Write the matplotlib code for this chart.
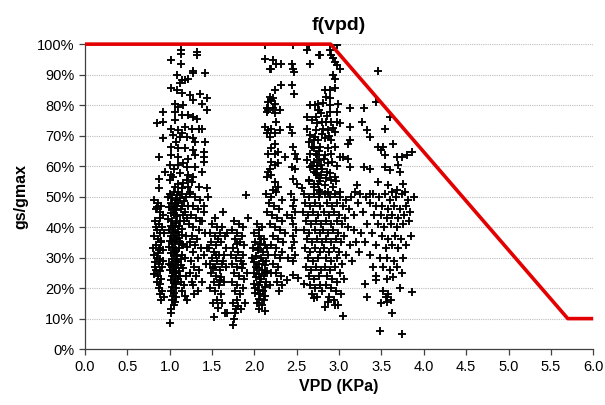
"""
f(vpd) — stomatal conductance ratio vs VPD, with the limiting function on top
"""

import numpy as np
import matplotlib
matplotlib.use("Agg")
import matplotlib.pyplot as plt
from matplotlib.ticker import PercentFormatter, FormatStrFormatter

plt.rcParams["font.family"] = ["Liberation Sans", "DejaVu Sans"]

# --- limiting function f(vpd) ---
fvpd_x = [0.0, 2.9, 5.7, 6.0]
fvpd_y = [1.0, 1.0, 0.1, 0.1]

upper_left = [
    (1.13, 0.98), (1.13, 0.967), (1.32, 0.975), (1.32, 0.964), (1.02, 0.947), (1.13, 0.934),
    (1.28, 0.912), (1.27, 0.904), (1.42, 0.904), (1.09, 0.898), (1.14, 0.882), (1.18, 0.884),
    (1.22, 0.887), (1.12, 0.873), (1.02, 0.855), (1.09, 0.849), (1.14, 0.840), (1.24, 0.833),
    (1.28, 0.816), (1.36, 0.838), (1.44, 0.825), (1.38, 0.805), (1.06, 0.805), (1.10, 0.794),
    (1.16, 0.80), (1.44, 0.783), (0.92, 0.778), (1.06, 0.778), (1.14, 0.767), (1.22, 0.767),
    (1.28, 0.762), (1.32, 0.756), (0.85, 0.74), (0.92, 0.745), (1.02, 0.723), (1.10, 0.718),
    (1.18, 0.729), (1.26, 0.723), (1.34, 0.723), (1.38, 0.723), (0.92, 0.693), (1.04, 0.701),
    (1.12, 0.696), (1.20, 0.696), (1.28, 0.691), (1.30, 0.68), (1.42, 0.68), (1.02, 0.663),
    (1.10, 0.658), (1.18, 0.658), (1.28, 0.652), (1.40, 0.647), (0.87, 0.63), (1.02, 0.636),
    (1.10, 0.63), (1.22, 0.625), (1.30, 0.636), (1.40, 0.63), (1.40, 0.614), (1.00, 0.603),
    (1.10, 0.603), (1.20, 0.598), (1.30, 0.598), (0.94, 0.581), (1.02, 0.570), (1.12, 0.576),
    (1.22, 0.570), (1.28, 0.565), (1.38, 0.581), (0.87, 0.559), (1.00, 0.554), (1.10, 0.543),
    (1.26, 0.549), (0.87, 0.527), (1.06, 0.532), (1.14, 0.527), (1.22, 0.532), (1.34, 0.532),
    (1.44, 0.527), (1.10, 0.516), (1.24, 0.516), (1.05, 0.59), (1.16, 0.61), (1.08, 0.68),
    (1.15, 0.71), (1.06, 0.75), (1.20, 0.555), (1.04, 0.565), (1.16, 0.545),
]

left_low = [
    (0.82, 0.49), (0.86, 0.48), (0.90, 0.47), (0.84, 0.46), (0.88, 0.45), (0.92, 0.44),
    (0.83, 0.42), (0.87, 0.41), (0.91, 0.40), (0.85, 0.39), (0.89, 0.38), (0.82, 0.37),
    (0.86, 0.36), (0.90, 0.355), (0.84, 0.34), (0.88, 0.33), (0.92, 0.325), (0.81, 0.31),
    (0.85, 0.30), (0.89, 0.295), (0.83, 0.285), (0.87, 0.28), (0.91, 0.27), (0.84, 0.26),
    (0.88, 0.255), (0.82, 0.245), (0.86, 0.24), (0.90, 0.23), (0.85, 0.22), (0.89, 0.215),
    (0.87, 0.20), (0.91, 0.19), (0.88, 0.18), (0.93, 0.17), (0.90, 0.16), (0.86, 0.315),
    (0.90, 0.35), (0.84, 0.40), (0.88, 0.43), (0.92, 0.29), (0.83, 0.27), (0.87, 0.325),
    (0.85, 0.465), (0.80, 0.33), (0.93, 0.38),
]

main_low = [
    (1.00, 0.51), (1.05, 0.515), (1.09, 0.505), (1.14, 0.51), (1.19, 0.50), (0.98, 0.50),
    (1.03, 0.495), (1.08, 0.49), (1.12, 0.495), (1.17, 0.485), (1.01, 0.48), (1.06, 0.475),
    (1.10, 0.48), (1.15, 0.47), (0.99, 0.465), (1.04, 0.46), (1.07, 0.455), (1.13, 0.46),
    (1.18, 0.45), (1.02, 0.445), (1.05, 0.44), (1.09, 0.435), (1.16, 0.44), (1.20, 0.43),
    (0.98, 0.425), (1.03, 0.42), (1.08, 0.415), (1.12, 0.42), (1.01, 0.405), (1.06, 0.40),
    (1.11, 0.405), (1.15, 0.395), (0.99, 0.39), (1.04, 0.385), (1.07, 0.38), (1.10, 0.385),
    (1.14, 0.375), (1.02, 0.37), (1.05, 0.365), (1.09, 0.36), (1.19, 0.37), (1.00, 0.355),
    (1.03, 0.35), (1.06, 0.345), (1.12, 0.35), (1.16, 0.34), (0.99, 0.335), (1.04, 0.33),
    (1.08, 0.325), (1.11, 0.33), (1.21, 0.335), (1.01, 0.315), (1.05, 0.31), (1.09, 0.305),
    (1.14, 0.31), (1.18, 0.30), (1.03, 0.295), (1.07, 0.29), (1.10, 0.285), (0.99, 0.28),
    (1.02, 0.275), (1.06, 0.27), (1.13, 0.275), (1.16, 0.265), (1.00, 0.26), (1.04, 0.255),
    (1.08, 0.25), (1.11, 0.255), (1.03, 0.24), (1.06, 0.235), (1.10, 0.23), (1.19, 0.24),
    (1.01, 0.225), (1.05, 0.22), (1.08, 0.215), (1.13, 0.22), (1.03, 0.205), (1.07, 0.20),
    (1.17, 0.21), (1.02, 0.19), (1.05, 0.185), (1.15, 0.19), (1.04, 0.175), (1.08, 0.17),
    (1.18, 0.175), (1.03, 0.16), (1.06, 0.155), (1.20, 0.16), (1.05, 0.145), (1.02, 0.13),
    (1.01, 0.12), (1.00, 0.085), (1.07, 0.44), (1.04, 0.40), (1.06, 0.32), (1.04, 0.28),
    (1.07, 0.36), (1.05, 0.46), (1.08, 0.265), (1.12, 0.24), (1.15, 0.345), (1.17, 0.42),
    (1.22, 0.47), (1.09, 0.47), (1.11, 0.365), (1.13, 0.295), (1.05, 0.25),
]

mid_low = [
    (1.24, 0.51), (1.30, 0.50), (1.36, 0.49), (1.27, 0.47), (1.33, 0.46), (1.40, 0.45),
    (1.25, 0.44), (1.31, 0.43), (1.38, 0.42), (1.23, 0.41), (1.28, 0.40), (1.35, 0.39),
    (1.42, 0.38), (1.26, 0.37), (1.32, 0.36), (1.24, 0.35), (1.30, 0.34), (1.37, 0.33),
    (1.27, 0.32), (1.33, 0.30), (1.25, 0.29), (1.40, 0.31), (1.29, 0.27), (1.35, 0.26),
    (1.24, 0.25), (1.31, 0.24), (1.38, 0.22), (1.27, 0.21), (1.33, 0.19), (1.29, 0.18),
    (1.45, 0.50), (1.41, 0.47), (1.43, 0.28), (1.44, 0.33), (1.26, 0.22), (1.36, 0.42),
]

band_15 = [
    (1.50, 0.41), (1.56, 0.40), (1.62, 0.40), (1.47, 0.38), (1.53, 0.37), (1.59, 0.38),
    (1.65, 0.37), (1.49, 0.35), (1.55, 0.34), (1.61, 0.35), (1.67, 0.33), (1.46, 0.33),
    (1.52, 0.32), (1.58, 0.31), (1.64, 0.31), (1.50, 0.30), (1.56, 0.29), (1.62, 0.28),
    (1.47, 0.28), (1.53, 0.27), (1.59, 0.26), (1.66, 0.27), (1.49, 0.25), (1.55, 0.24),
    (1.61, 0.235), (1.52, 0.22), (1.58, 0.21), (1.64, 0.22), (1.48, 0.20), (1.54, 0.19),
    (1.60, 0.18), (1.56, 0.16), (1.51, 0.15), (1.62, 0.15), (1.57, 0.135), (1.52, 0.105),
    (1.65, 0.12), (1.68, 0.12), (1.63, 0.45), (1.54, 0.43), (1.57, 0.36), (1.51, 0.265),
    (1.63, 0.29), (1.68, 0.38), (1.59, 0.225), (1.55, 0.31),
]

band_18 = [
    (1.76, 0.42), (1.82, 0.41), (1.87, 0.40), (1.74, 0.39), (1.80, 0.38), (1.85, 0.37),
    (1.77, 0.36), (1.83, 0.35), (1.88, 0.34), (1.75, 0.33), (1.81, 0.32), (1.86, 0.31),
    (1.78, 0.30), (1.84, 0.29), (1.73, 0.28), (1.79, 0.27), (1.85, 0.265), (1.76, 0.25),
    (1.82, 0.24), (1.88, 0.23), (1.74, 0.22), (1.80, 0.21), (1.86, 0.20), (1.77, 0.19),
    (1.83, 0.18), (1.79, 0.16), (1.75, 0.15), (1.81, 0.14), (1.77, 0.12), (1.84, 0.13),
    (1.76, 0.10), (1.75, 0.08), (1.78, 0.13), (1.87, 0.28), (1.89, 0.15), (1.80, 0.345),
    (1.90, 0.505), (1.93, 0.43), (1.91, 0.25), (1.72, 0.31),
]

band_21 = [
    (2.03, 0.41), (2.09, 0.40), (1.99, 0.38), (2.05, 0.37), (2.11, 0.36), (2.01, 0.35),
    (2.07, 0.345), (2.13, 0.34), (1.98, 0.33), (2.04, 0.325), (2.10, 0.32), (2.16, 0.31),
    (2.02, 0.305), (2.08, 0.30), (2.14, 0.29), (2.00, 0.285), (2.06, 0.28), (2.12, 0.275),
    (2.03, 0.265), (2.09, 0.26), (2.15, 0.255), (1.99, 0.25), (2.05, 0.245), (2.11, 0.24),
    (2.02, 0.235), (2.08, 0.23), (2.14, 0.22), (2.00, 0.215), (2.06, 0.21), (2.12, 0.205),
    (2.04, 0.195), (2.10, 0.19), (2.01, 0.185), (2.07, 0.18), (2.13, 0.175), (2.05, 0.165),
    (2.11, 0.16), (2.03, 0.15), (2.09, 0.145), (2.06, 0.13), (2.12, 0.125), (2.04, 0.33),
    (2.08, 0.36), (2.02, 0.27), (2.13, 0.25), (2.07, 0.22), (2.10, 0.29), (2.01, 0.20),
    (2.15, 0.33), (2.18, 0.21), (2.20, 0.25), (1.97, 0.30), (2.06, 0.39),
]

upper_mid = [
    (2.125, 0.997), (2.45, 0.997), (2.64, 0.997), (2.62, 0.98), (2.76, 0.964), (2.125, 0.95),
    (2.22, 0.947), (2.26, 0.934), (2.31, 0.934), (2.18, 0.92), (2.20, 0.92), (2.44, 0.934),
    (2.46, 0.92), (2.47, 0.909), (2.66, 0.934), (2.31, 0.865), (2.44, 0.865), (2.24, 0.849),
    (2.47, 0.836), (2.18, 0.827), (2.22, 0.825), (2.20, 0.816), (2.16, 0.811), (2.24, 0.805),
    (2.15, 0.789), (2.16, 0.783), (2.22, 0.789), (2.30, 0.783), (2.15, 0.778), (2.24, 0.773),
    (2.66, 0.80), (2.72, 0.80), (2.76, 0.783), (2.26, 0.745), (2.125, 0.729), (2.16, 0.718),
    (2.20, 0.723), (2.30, 0.718), (2.15, 0.707), (2.18, 0.696), (2.24, 0.707), (2.42, 0.729),
    (2.44, 0.707), (2.62, 0.723), (2.66, 0.702), (2.70, 0.685), (2.72, 0.696), (2.24, 0.674),
    (2.20, 0.658), (2.16, 0.641), (2.24, 0.641), (2.28, 0.647), (2.36, 0.63), (2.46, 0.663),
    (2.48, 0.641), (2.50, 0.625), (2.68, 0.663), (2.66, 0.641), (2.74, 0.636), (2.70, 0.614),
    (2.20, 0.614), (2.24, 0.603), (2.28, 0.609), (2.18, 0.592), (2.16, 0.581), (2.20, 0.570),
    (2.15, 0.565), (2.44, 0.598), (2.48, 0.592), (2.46, 0.559), (2.50, 0.543), (2.66, 0.598),
    (2.70, 0.581), (2.74, 0.570), (2.64, 0.554), (2.24, 0.549), (2.28, 0.532), (2.22, 0.521),
    (2.56, 0.527), (2.70, 0.532), (2.76, 0.521), (2.62, 0.76), (2.68, 0.75), (2.74, 0.74),
    (2.64, 0.68), (2.70, 0.66), (2.76, 0.65), (2.62, 0.62), (2.68, 0.60), (2.74, 0.59),
    (2.64, 0.55), (2.70, 0.54), (2.76, 0.56),
]

mid_low2 = [
    (2.14, 0.51), (2.20, 0.50), (2.26, 0.515), (2.32, 0.49), (2.17, 0.48), (2.23, 0.47),
    (2.29, 0.46), (2.15, 0.45), (2.21, 0.44), (2.27, 0.43), (2.33, 0.42), (2.18, 0.41),
    (2.24, 0.40), (2.30, 0.39), (2.22, 0.37), (2.28, 0.36), (2.34, 0.35), (2.20, 0.34),
    (2.26, 0.33), (2.32, 0.32), (2.24, 0.31), (2.30, 0.30), (2.22, 0.28), (2.28, 0.27),
    (2.25, 0.25), (2.31, 0.24), (2.27, 0.22), (2.33, 0.21), (2.29, 0.19), (2.43, 0.51),
    (2.47, 0.49), (2.45, 0.47), (2.48, 0.45), (2.44, 0.43), (2.46, 0.41), (2.49, 0.39),
    (2.45, 0.37), (2.47, 0.35), (2.44, 0.33), (2.48, 0.31), (2.46, 0.29), (2.38, 0.226),
    (2.46, 0.242), (2.52, 0.232), (2.58, 0.215), (2.38, 0.44), (2.36, 0.38), (2.40, 0.30),
]

band_28_low = [
    (2.58, 0.51), (2.64, 0.50), (2.70, 0.51), (2.76, 0.50), (2.60, 0.48), (2.66, 0.47),
    (2.72, 0.48), (2.78, 0.47), (2.57, 0.45), (2.63, 0.44), (2.69, 0.45), (2.75, 0.44),
    (2.61, 0.42), (2.67, 0.41), (2.73, 0.42), (2.79, 0.41), (2.59, 0.39), (2.65, 0.38),
    (2.71, 0.39), (2.77, 0.38), (2.62, 0.36), (2.68, 0.35), (2.74, 0.36), (2.80, 0.35),
    (2.60, 0.33), (2.66, 0.32), (2.72, 0.33), (2.78, 0.32), (2.63, 0.30), (2.69, 0.29),
    (2.75, 0.30), (2.61, 0.27), (2.67, 0.26), (2.73, 0.27), (2.79, 0.26), (2.64, 0.24),
    (2.70, 0.23), (2.76, 0.24), (2.66, 0.21), (2.72, 0.20), (2.78, 0.21), (2.68, 0.18),
    (2.74, 0.17), (2.70, 0.166), (2.80, 0.19), (2.83, 0.51), (2.89, 0.50), (2.95, 0.51),
    (3.01, 0.50), (3.08, 0.49), (3.14, 0.50), (2.86, 0.48), (2.92, 0.47), (2.98, 0.48),
    (3.05, 0.47), (3.12, 0.46), (2.82, 0.45), (2.88, 0.44), (2.94, 0.45), (3.00, 0.44),
    (3.07, 0.43), (3.17, 0.44), (2.85, 0.42), (2.91, 0.41), (2.97, 0.42), (3.03, 0.41),
    (3.10, 0.40), (2.81, 0.39), (2.87, 0.38), (2.93, 0.39), (2.99, 0.38), (3.06, 0.37),
    (2.84, 0.36), (2.90, 0.35), (2.96, 0.36), (3.02, 0.35), (3.13, 0.34), (2.82, 0.33),
    (2.88, 0.32), (2.94, 0.33), (3.00, 0.32), (3.08, 0.31), (2.85, 0.30), (2.91, 0.29),
    (2.97, 0.30), (3.04, 0.28), (2.83, 0.27), (2.89, 0.26), (2.95, 0.27), (3.01, 0.25),
    (2.86, 0.24), (2.92, 0.23), (2.98, 0.22), (3.06, 0.23), (2.84, 0.21), (2.90, 0.20),
    (2.96, 0.19), (3.02, 0.18), (2.88, 0.17), (2.94, 0.16), (2.87, 0.155), (2.83, 0.139),
    (2.95, 0.144), (2.99, 0.144), (3.05, 0.108), (3.18, 0.39), (3.15, 0.29), (3.20, 0.35),
]

upper_right = [
    (2.98, 0.997), (2.77, 0.964), (2.89, 0.98), (2.91, 0.964), (2.93, 0.953), (2.95, 0.942),
    (2.97, 0.931), (3.01, 0.917), (3.46, 0.912), (2.93, 0.898), (2.95, 0.887), (2.83, 0.849),
    (2.89, 0.849), (2.95, 0.855), (2.85, 0.827), (2.89, 0.822), (2.75, 0.805), (2.81, 0.808),
    (2.89, 0.80), (2.99, 0.805), (3.13, 0.789), (3.29, 0.789), (3.44, 0.811), (2.75, 0.783),
    (2.79, 0.773), (2.73, 0.762), (2.89, 0.778), (2.97, 0.778), (3.60, 0.76), (2.85, 0.745),
    (2.91, 0.745), (2.97, 0.745), (3.01, 0.74), (3.27, 0.745), (3.33, 0.72), (3.13, 0.727),
    (3.54, 0.723), (2.73, 0.718), (2.81, 0.723), (2.87, 0.718), (2.95, 0.712), (3.37, 0.694),
    (2.75, 0.685), (2.83, 0.691), (2.91, 0.685), (3.13, 0.685), (3.11, 0.674), (3.64, 0.674),
    (3.46, 0.663), (3.52, 0.663), (3.50, 0.652), (3.54, 0.636), (2.77, 0.663), (2.87, 0.658),
    (2.95, 0.663), (2.73, 0.641), (2.83, 0.636), (2.91, 0.641), (3.01, 0.63), (3.05, 0.63),
    (3.11, 0.625), (3.68, 0.63), (3.74, 0.63), (3.80, 0.636), (3.86, 0.647), (2.79, 0.603),
    (2.87, 0.609), (3.13, 0.598), (3.29, 0.598), (3.37, 0.592), (3.54, 0.598), (3.60, 0.587),
    (3.70, 0.603), (3.72, 0.581), (2.73, 0.576), (2.79, 0.570), (2.89, 0.576), (2.95, 0.565),
    (3.46, 0.549), (3.58, 0.538), (3.76, 0.543), (2.75, 0.543), (2.83, 0.538), (2.93, 0.532),
    (3.21, 0.538), (3.62, 0.516), (3.68, 0.521), (3.78, 0.516), (2.77, 0.516), (2.87, 0.516),
    (3.01, 0.516), (3.19, 0.516), (3.37, 0.51), (2.74, 0.60), (2.80, 0.59), (2.86, 0.58),
    (2.78, 0.55), (2.84, 0.56), (2.90, 0.555), (2.96, 0.55), (2.76, 0.62), (2.82, 0.625),
    (2.92, 0.615), (2.98, 0.60), (2.88, 0.70), (2.80, 0.705), (2.93, 0.725), (2.86, 0.765),
    (2.80, 0.745),
]

band_36_low = [
    (3.25, 0.51), (3.32, 0.50), (3.40, 0.51), (3.47, 0.50), (3.54, 0.51), (3.60, 0.49),
    (3.67, 0.50), (3.74, 0.51), (3.81, 0.49), (3.36, 0.48), (3.44, 0.47), (3.51, 0.47),
    (3.58, 0.46), (3.65, 0.47), (3.72, 0.46), (3.79, 0.47), (3.28, 0.45), (3.41, 0.44),
    (3.49, 0.44), (3.56, 0.43), (3.63, 0.44), (3.70, 0.43), (3.77, 0.44), (3.84, 0.45),
    (3.33, 0.41), (3.46, 0.41), (3.53, 0.40), (3.61, 0.41), (3.68, 0.40), (3.75, 0.41),
    (3.26, 0.38), (3.39, 0.38), (3.51, 0.37), (3.58, 0.36), (3.66, 0.37), (3.73, 0.36),
    (3.85, 0.37), (3.30, 0.35), (3.43, 0.34), (3.55, 0.33), (3.62, 0.34), (3.70, 0.33),
    (3.79, 0.34), (3.24, 0.32), (3.36, 0.31), (3.48, 0.30), (3.57, 0.30), (3.65, 0.29),
    (3.76, 0.30), (3.40, 0.27), (3.52, 0.27), (3.60, 0.26), (3.68, 0.27), (3.74, 0.25),
    (3.44, 0.24), (3.56, 0.23), (3.64, 0.235), (3.31, 0.213), (3.33, 0.171), (3.44, 0.228),
    (3.52, 0.19), (3.55, 0.17), (3.58, 0.18), (3.61, 0.16), (3.50, 0.15), (3.57, 0.155),
    (3.72, 0.199), (3.86, 0.188), (3.62, 0.117), (3.48, 0.059), (3.74, 0.051), (3.88, 0.50),
    (3.83, 0.42), (3.22, 0.48),
]

bands = [upper_left, left_low, main_low, mid_low, band_15, band_18, band_21,
         upper_mid, mid_low2, band_28_low, upper_right, band_36_low]


def plot_fvpd():
    pts = np.array([p for band in bands for p in band])

    fig = plt.figure(figsize=(6.05, 4.05), dpi=100)
    ax = fig.add_axes([0.1405, 0.138, 0.840, 0.753])

    ax.plot(pts[:, 0], pts[:, 1], "+", color="black", markersize=6, mew=1.35,
            linestyle="none", zorder=3)
    ax.plot(fvpd_x, fvpd_y, color="#e30000", linewidth=2.6, zorder=4,
            clip_on=False, solid_capstyle="butt")

    ax.set_xlim(0, 6)
    ax.set_ylim(0, 1)
    ax.set_xticks(np.arange(0, 6.01, 0.5))
    ax.set_yticks(np.arange(0, 1.01, 0.1))
    ax.xaxis.set_major_formatter(FormatStrFormatter("%.1f"))
    ax.yaxis.set_major_formatter(PercentFormatter(1.0, decimals=0))

    ax.yaxis.grid(True, color="#bdbdbd", linestyle=(0, (1, 1)), linewidth=0.8)
    ax.set_axisbelow(True)
    for side in ("top", "right"):
        ax.spines[side].set_visible(False)
    for side in ("left", "bottom"):
        ax.spines[side].set_color("#404040")
        ax.spines[side].set_linewidth(0.9)
    ax.tick_params(direction="out", length=4, width=0.9, color="#404040",
                   labelsize=10.5, labelcolor="black")

    ax.set_title("f(vpd)", fontsize=14, fontweight="bold", pad=10)
    ax.set_xlabel("VPD (KPa)", fontsize=11.5, fontweight="bold", labelpad=4)
    ax.set_ylabel("gs/gmax", fontsize=11.5, fontweight="bold", labelpad=6)

    fig.savefig("out.png", dpi=100, facecolor="white")
    plt.close(fig)


if __name__ == "__main__":
    plot_fvpd()
